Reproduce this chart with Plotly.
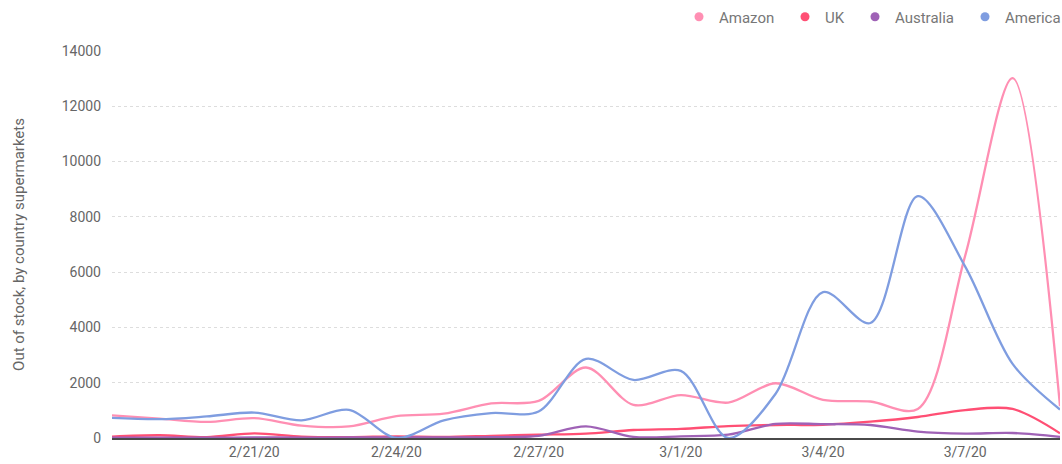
import plotly.graph_objects as go

dates = ["2020-02-18", "2020-02-19", "2020-02-20", "2020-02-21", "2020-02-22", "2020-02-23",
         "2020-02-24", "2020-02-25", "2020-02-26", "2020-02-27", "2020-02-28", "2020-02-29",
         "2020-03-01", "2020-03-02", "2020-03-03", "2020-03-04", "2020-03-05", "2020-03-06",
         "2020-03-07", "2020-03-08", "2020-03-09"]

amazon = [820, 700, 580, 720, 450, 420, 790, 880, 1250, 1340, 2550, 1200,
          1550, 1280, 1980, 1380, 1320, 1050, 6600, 13020, 1150]
uk = [50, 100, 30, 170, 50, 30, 60, 40, 80, 120, 160, 290,
      330, 430, 470, 480, 590, 760, 1010, 1050, 170]
australia = [10, 15, 10, 20, 15, 20, 25, 20, 30, 80, 420, 40,
             60, 120, 510, 500, 470, 230, 160, 180, 40]
america = [730, 680, 780, 920, 640, 1020, 0, 640, 900, 960, 2860, 2100,
           2430, 0, 1600, 5280, 4160, 8750, 6200, 2680, 1030]

series = [("Amazon", amazon, "#ff8fb3"),
          ("UK", uk, "#ff4f74"),
          ("Australia", australia, "#9f62b6"),
          ("America", america, "#7f9de0")]

y_ticks = [0, 2000, 4000, 6000, 8000, 10000, 12000, 14000]
y_labels = ["0", "2000", "4000", "6000", "8000", "10000", "12000", "14000"]
x_ticks = ["2020-02-21", "2020-02-24", "2020-02-27", "2020-03-01", "2020-03-04", "2020-03-07"]
x_labels = ["2/21/20", "2/24/20", "2/27/20", "3/1/20", "3/4/20", "3/7/20"]

# legend text start positions (pixels) -> one legend per entry
legend_text_px = [719, 825, 895, 1005]
plot_left, plot_w = 112, 948

fig = go.Figure()
for name, vals, col in series:
    fig.add_trace(go.Scatter(x=dates, y=vals, mode="lines", name=name,
                             line=dict(color=col, width=2.3, shape="spline", smoothing=0.9),
                             showlegend=False, hoverinfo="x+y+name"))

legend_layout = {}
for i, ((name, vals, col), px) in enumerate(zip(series, legend_text_px)):
    key = "legend" if i == 0 else f"legend{i + 1}"
    fig.add_trace(go.Scatter(x=[None], y=[None], mode="markers", name=name,
                             marker=dict(color=col, size=9, symbol="circle"),
                             legend=key))
    legend_layout[key] = dict(orientation="h", x=(px - 40 - plot_left) / plot_w,
                              xanchor="left", y=1.088, yanchor="middle",
                              font=dict(size=15, color="#777777"),
                              bgcolor="rgba(0,0,0,0)", borderwidth=0)

fig.update_layout(
    width=1062, height=464,
    margin=dict(l=112, r=2, t=51, b=26, autoexpand=False),
    paper_bgcolor="white", plot_bgcolor="white",
    font=dict(family="Roboto, Arial, sans-serif", size=13, color="#666666"),
    xaxis=dict(range=["2020-02-18", "2020-03-09"], tickvals=x_ticks, ticktext=x_labels,
               showgrid=False, zeroline=False, showline=True, linecolor="#4a4a4a",
               linewidth=2, ticks="", tickfont=dict(size=14, color="#666666")),
    yaxis=dict(range=[0, 14000], tickvals=y_ticks, ticktext=y_labels, showgrid=True,
               gridcolor="#dddddd", griddash="dot", gridwidth=1, zeroline=False,
               showline=False, ticks="", ticklabelstandoff=10,
               title=dict(text="Out of stock, by country supermarkets",
                          font=dict(size=15, color="#666666"), standoff=33),
               tickfont=dict(size=14, color="#666666")),
    **legend_layout,
)

fig.write_html("out.html", config={"displayModeBar": False},
               post_script="document.body.style.margin='0px';")
